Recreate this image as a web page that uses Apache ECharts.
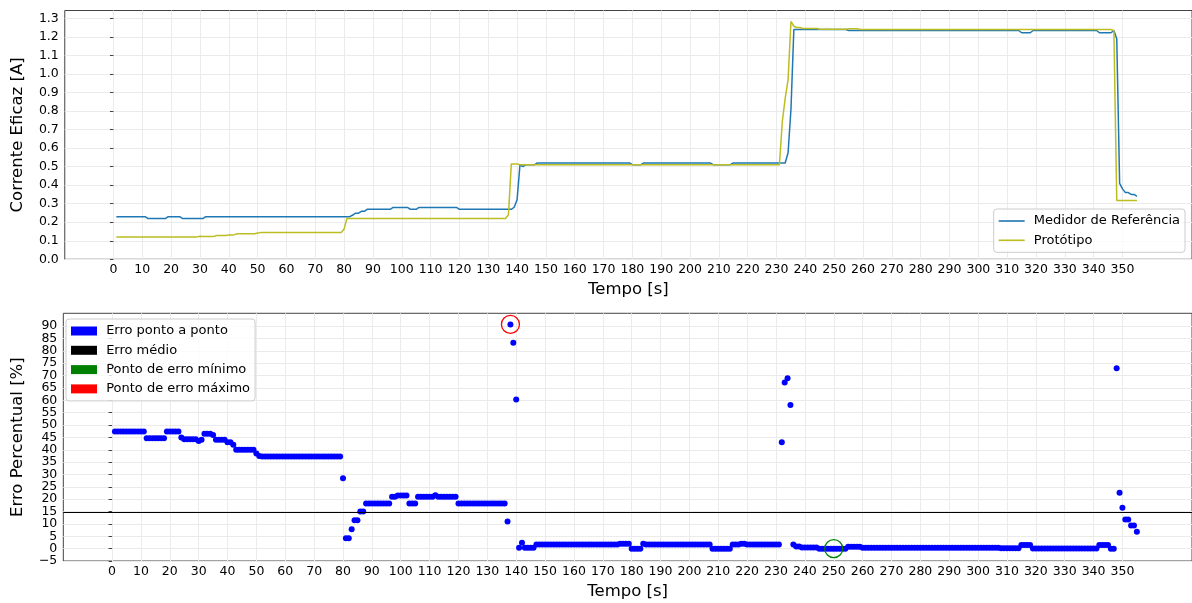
<!DOCTYPE html>
<html><head><meta charset="utf-8">
<script src="https://cdn.jsdelivr.net/npm/echarts@6/dist/echarts.min.js"></script>
<style>html,body{margin:0;padding:0;background:#fff}#c{width:1192px;height:603px}</style>
</head><body><div id="c"></div>
<script>
// ---- data (run-length: [count, value], time starts at 1 s, step 1 s) ----
const startTime = 1;
const refRuns = [
  [11,0.23],[7,0.22],[5,0.23],[8,0.22],[51,0.23],[1,0.239],[2,0.249],[2,0.259],
  [9,0.27],[6,0.28],[3,0.27],[14,0.28],[19,0.27],[1,0.281],[1,0.321],[1,0.51],
  [1,0.50],[4,0.51],[33,0.52],[4,0.511],[24,0.52],[7,0.511],[19,0.52],[1,0.575],
  [1,0.81],[19,1.24],[60,1.235],[4,1.223],[23,1.235],[5,1.223],[1,1.235],[1,1.19],
  [1,0.41],[1,0.38],[2,0.36],[2,0.35],[1,0.34]
];
const protoRuns = [
  [29,0.121],[1,0.124],[1,0.123],[3,0.123],[1,0.124],[4,0.129],[2,0.131],[1,0.133],
  [7,0.138],[1,0.1415],[29,0.144],[1,0.164],[56,0.2205],[1,0.24],[1,0.515],[2,0.514],
  [91,0.511],[1,0.744],[1,0.87],[1,0.97],[1,1.284],[1,1.258],[2,1.251],[6,1.246],
  [10,1.242],[4,1.245],[88,1.24],[1,1.235],[8,0.317]
];
const errRuns = [
  [11,47.4],[7,44.7],[5,47.4],[1,45.0],[5,44.3],[1,43.5],[1,44.0],[3,46.5],[1,46.0],
  [4,44.0],[2,43.0],[1,42.0],[7,40.0],[1,38.5],[1,37.5],[28,37.3],[1,28.5],[2,4.2],
  [1,7.8],[2,11.5],[2,15.0],[9,18.3],[2,21.0],[4,21.5],[3,18.3],[6,21.0],[1,21.6],
  [7,21.0],[17,18.3],[1,11.0],[1,90.7],[1,83.3],[1,60.3],[1,0.4],[1,2.4],[4,0.4],
  [29,1.7],[4,2.0],[4,0.0],[1,2.0],[23,1.7],[7,0.0],[3,1.7],[2,2.0],[12,1.7],
  [1,43.0],[1,67.2],[1,68.9],[1,58.1],[1,1.7],[2,0.9],[6,0.5],[10,0.0],[5,0.8],
  [48,0.4],[7,0.2],[4,1.5],[23,0.1],[4,1.5],[2,0.0],[1,73.0],[1,22.6],[1,16.5],
  [2,11.8],[2,9.4],[1,6.8]
];
const minPoint = [250, 0.0];
const maxPoint = [138, 90.7];
const meanError = 14.6;
const xTicks = [0,10,20,30,40,50,60,70,80,90,100,110,120,130,140,150,160,170,180,190,200,210,220,230,240,250,260,270,280,290,300,310,320,330,340,350];
const yTicksTop = [0,0.1,0.2,0.3,0.4,0.5,0.6,0.7,0.8,0.9,1.0,1.1,1.2,1.3];
const yTicksBottom = [-5,0,5,10,15,20,25,30,35,40,45,50,55,60,65,70,75,80,85,90];
const yLabelsBottomOdd = [-5,5,15,25,35,45,55,65,75,85];
const yLabelsBottomEven = [0,10,20,30,40,50,60,70,80,90];

function expand(runs){
  const out=[]; let t=startTime;
  runs.forEach(([n,v])=>{ for(let i=0;i<n;i++){ out.push([t,v]); t++; } });
  return out;
}
const refData = expand(refRuns), protoData = expand(protoRuns), errData = expand(errRuns);

const FONT = 'DejaVu Sans';
const gridCol = '#ebebeb', spine = '#444';
const xMin = -16.88, xMax = 374.1;
function xAxisDef(gi, gap){
  return {type:'value', gridIndex:gi, min:xMin, max:xMax,
    name:'Tempo [s]', nameLocation:'middle', nameGap:gap,
    nameTextStyle:{fontFamily:FONT,fontSize:16.5,color:'#000',lineHeight:20},
    axisLine:{show:false},
    axisTick:{show:false, customValues:xTicks},
    axisLabel:{customValues:xTicks, fontFamily:FONT, fontSize:12.5, color:'#000', margin:4,
      showMinLabel:true, showMaxLabel:true, hideOverlap:false},
    splitLine:{show:true, lineStyle:{color:gridCol,width:1}}};
}
const minusFmt = v=>v<0?'\u2212'+Math.abs(v):String(v);
function yAxisDef(gi, name, mn, mx, iv, ticks, labels, fmt){
  return {type:'value', gridIndex:gi, min:mn, max:mx, interval:iv,
    name:name, nameLocation:'middle', nameGap:30,
    nameTextStyle:{fontFamily:FONT,fontSize:16.5,color:'#000',lineHeight:20},
    axisLine:{show:false},
    axisTick:{show:true, length:3.5, customValues:ticks, lineStyle:{color:spine}},
    axisLabel:{customValues:labels, fontFamily:FONT, fontSize:12.5, color:'#000', margin:6, formatter:fmt,
      showMinLabel:true, showMaxLabel:true, hideOverlap:false},
    splitLine:{show:true, lineStyle:{color:gridCol,width:1}}};
}
const legendCommon = {orient:'vertical', itemGap:5.3, padding:5, borderColor:'#cccccc', borderWidth:1,
  borderRadius:3, backgroundColor:'rgba(255,255,255,0.8)', selectedMode:false,
  textStyle:{fontFamily:FONT,fontSize:13,color:'#000',lineHeight:14}, formatter:n=>' '+n};

const chart = echarts.init(document.getElementById('c'), null, {renderer:'canvas'});
chart.setOption({
  animation:false,
  backgroundColor:'#fff',
  grid:[
    {left:60, top:10.5, width:1135, height:248.8, show:true, borderColor:spine, borderWidth:1, backgroundColor:'transparent'},
    {left:60, top:313.3, width:1135, height:248.4, show:true, borderColor:spine, borderWidth:1, backgroundColor:'transparent'}
  ],
  xAxis:[xAxisDef(0,20), xAxisDef(1,21)],
  yAxis:[
    yAxisDef(0,'Corrente Eficaz [A]',0,1.343,0.1,yTicksTop,yTicksTop,v=>v.toFixed(1)),
    yAxisDef(1,'Erro Percentual [%]',-5,95.2,5,yTicksBottom,yLabelsBottomOdd,minusFmt),
    {type:'value', gridIndex:1, min:-5, max:95.2, interval:5, position:'left',
      axisLine:{show:false}, axisTick:{show:false}, splitLine:{show:false},
      axisLabel:{customValues:yLabelsBottomEven, fontFamily:FONT, fontSize:12.5, color:'#000', margin:6,
        formatter:minusFmt, showMinLabel:true, showMaxLabel:true, hideOverlap:false}}
  ],
  legend:[
    Object.assign({}, legendCommon, {right:7, top:209, itemWidth:26, itemHeight:1.6,
      data:[
        {name:'Medidor de Referência', icon:'rect', itemStyle:{color:'#1f77b4',borderWidth:0,opacity:1}},
        {name:'Protótipo', icon:'rect', itemStyle:{color:'#bcbd22',borderWidth:0,opacity:1}}
      ]}),
    Object.assign({}, legendCommon, {left:66, top:319, itemWidth:26, itemHeight:9,
      data:[
        {name:'Erro ponto a ponto', icon:'rect', itemStyle:{color:'#0000ff',borderWidth:0,opacity:1}},
        {name:'Erro médio', icon:'rect', itemStyle:{color:'#000000',borderWidth:0,opacity:1}},
        {name:'Ponto de erro mínimo', icon:'rect', itemStyle:{color:'#008000',borderWidth:0,opacity:1}},
        {name:'Ponto de erro máximo', icon:'rect', itemStyle:{color:'#ff0000',borderWidth:0,opacity:1}}
      ]})
  ],
  series:[
    {name:'Medidor de Referência', type:'line', xAxisIndex:0, yAxisIndex:0, data:refData,
      symbol:'none', showSymbol:false, color:'#1f77b4', lineStyle:{color:'#1f77b4',width:1.5}},
    {name:'Protótipo', type:'line', xAxisIndex:0, yAxisIndex:0, data:protoData,
      symbol:'none', showSymbol:false, color:'#bcbd22', lineStyle:{color:'#bcbd22',width:1.5}},
    {name:'Erro ponto a ponto', type:'scatter', xAxisIndex:1, yAxisIndex:1, data:errData,
      symbol:'circle', symbolSize:6, itemStyle:{color:'#0000ff',opacity:1}, z:2},
    {name:'Erro médio', type:'line', xAxisIndex:1, yAxisIndex:1, data:[], color:'#000',
      markLine:{silent:true, symbol:['none','none'], label:{show:false},
        lineStyle:{color:'#000',width:1.2,type:'solid'}, data:[{yAxis:meanError}]}, z:3},
    {name:'Ponto de erro mínimo', type:'scatter', xAxisIndex:1, yAxisIndex:1, data:[minPoint],
      symbol:'circle', symbolSize:18, itemStyle:{color:'transparent',borderColor:'#008000',borderWidth:1.3,opacity:1}, z:4},
    {name:'Ponto de erro máximo', type:'scatter', xAxisIndex:1, yAxisIndex:1, data:[maxPoint],
      symbol:'circle', symbolSize:18, itemStyle:{color:'transparent',borderColor:'#ff0000',borderWidth:1.3,opacity:1}, z:4}
  ]
});
</script></body></html>
